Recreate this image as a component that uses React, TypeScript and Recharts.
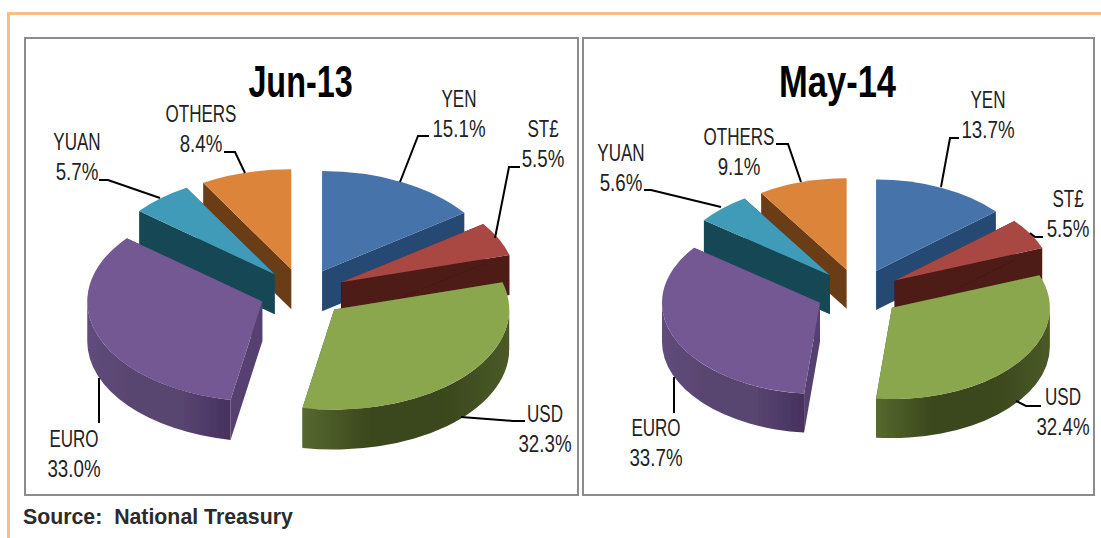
import { PieChart, Pie } from 'recharts'

const categories = ['YEN', 'ST£', 'USD', 'EURO', 'YUAN', 'OTHERS']
const jun13Values = [15.1, 5.5, 32.3, 33.0, 5.7, 8.4]
const may14Values = [13.7, 5.5, 32.4, 33.7, 5.6, 9.1]

// back to front, so the nearer slices cover the walls of the ones behind
const drawOrder = ['OTHERS', 'YUAN', 'EURO', 'YEN', 'ST£', 'USD']

const topColors: Record<string, string> = {
  YEN: '#4673ab', 'ST£': '#a94643', USD: '#8aa74e', EURO: '#735894', YUAN: '#419bb8', OTHERS: '#dd843b',
}
const wallColors: Record<string, string> = {
  YEN: '#264a73', 'ST£': '#4d1a18', USD: '#3d4a1e', EURO: '#54406f', YUAN: '#174754', OTHERS: '#6b3c16',
}
const wallGradients: Record<string, string[]> = {
  USD: ['#56682f', '#3a471c', '#3a471c', '#4a5a28'],
  EURO: ['#5f4c7c', '#59446f', '#58446f', '#46315f'],
}

// label text spots and leader lines, relative to each panel
const jun13Labels: Record<string, { x: number; y: number; line: number[][] }> = {
  YEN: { x: 435, y: 70, line: [[376, 145], [394, 99], [405, 99]] },
  'ST£': { x: 519, y: 100, line: [[471, 201], [485, 130], [496, 130]] },
  USD: { x: 521, y: 385, line: [[437, 380], [489, 384], [501, 384]] },
  EURO: { x: 50, y: 410, line: [[75, 341], [75, 386]] },
  YUAN: { x: 53, y: 113, line: [[136, 161], [84, 143], [75, 143]] },
  OTHERS: { x: 177, y: 85, line: [[221, 136], [211, 115], [200, 115]] },
}
const may14Labels: Record<string, { x: number; y: number; line: number[][] }> = {
  YEN: { x: 406, y: 71, line: [[359, 150], [368, 101], [377, 101]] },
  'ST£': { x: 486, y: 170, line: [[448, 196], [453, 200], [461, 200]] },
  USD: { x: 481, y: 368, line: [[434, 364], [444, 369], [459, 369]] },
  EURO: { x: 74, y: 399, line: [[92, 340], [92, 376]] },
  YUAN: { x: 39, y: 124, line: [[139, 170], [69, 153], [62, 153]] },
  OTHERS: { x: 157, y: 108, line: [[219, 145], [206, 107], [194, 107]] },
}

const LABEL_FONT = '"Liberation Sans", sans-serif'

const Slice3D = ({ props, depth, explode, tilt, id }: any) => {
  const { cx, cy, outerRadius, startAngle, endAngle, name } = props
  const rx = outerRadius
  const ry = outerRadius * tilt
  const a1 = ((90 - startAngle) * Math.PI) / 180
  const a2 = ((90 - endAngle) * Math.PI) / 180
  const mid = (a1 + a2) / 2
  const ox = cx + explode * rx * Math.sin(mid)
  const oy = cy - explode * ry * Math.cos(mid)
  const pt = (a: number, d = 0) => [ox + rx * Math.sin(a), oy - ry * Math.cos(a) + d]
  const arc = (from: number, to: number, d = 0, sweep = 1) => {
    const [x, y] = pt(to, d)
    return `A ${rx} ${ry} 0 ${Math.abs(to - from) > Math.PI ? 1 : 0} ${sweep} ${x} ${y}`
  }
  const wedgeWall = (a: number) => {
    const [x, y] = pt(a)
    return `M ${ox} ${oy} L ${x} ${y} L ${x} ${y + depth} L ${ox} ${oy + depth} Z`
  }
  // only the near half of the rim is visible
  const w1 = Math.max(a1, Math.PI / 2)
  const w2 = Math.min(a2, (Math.PI * 3) / 2)
  const hasRim = w2 > w1
  const [sx, sy] = pt(a1)
  const gradient = wallGradients[name]
  const rimFill = gradient ? `url(#${id}-${name})` : wallColors[name]
  return (
    <g filter={`url(#${id}-soft)`}>
      <defs>
        <filter id={`${id}-soft`} x="-10%" y="-10%" width="120%" height="120%">
          <feGaussianBlur stdDeviation="0.6" />
        </filter>
        {gradient && (
          <linearGradient id={`${id}-${name}`} x1="0" y1="0" x2="1" y2="0">
            {gradient.map((c, i) => (
              <stop key={i} offset={i / (gradient.length - 1)} stopColor={c} />
            ))}
          </linearGradient>
        )}
      </defs>
      <path d={wedgeWall(a2)} fill={wallColors[name]} />
      <path d={wedgeWall(a1)} fill={wallColors[name]} />
      {hasRim && (
        <path
          d={`M ${pt(w1)[0]} ${pt(w1)[1]} ${arc(w1, w2)} L ${pt(w2, depth)[0]} ${pt(w2, depth)[1]} ${arc(w2, w1, depth, 0)} Z`}
          fill={rimFill}
        />
      )}
      <path d={`M ${ox} ${oy} L ${sx} ${sy} ${arc(a1, a2)} Z`} fill={topColors[name]} />
    </g>
  )
}

// no condensed face is installed, so the text is squeezed sideways
const NarrowText = ({ x, y, squeeze, children }: any) => (
  <text
    transform={`translate(${x} ${y}) scale(${squeeze} 1)`}
    textAnchor="middle"
    fontFamily={LABEL_FONT}
    fontSize={24}
    fill="#222"
  >
    {children}
  </text>
)

const renderLabel = (labels: any) => (props: any) => {
  const spot = labels[props.name]
  if (!spot) return <g />
  return (
    <g key={props.name}>
      <polyline
        points={spot.line.map((p: number[]) => p.join(',')).join(' ')}
        fill="none"
        stroke="#000"
        strokeWidth={2}
      />
      <NarrowText x={spot.x} y={spot.y} squeeze={0.71}>
        {props.name}
      </NarrowText>
      <NarrowText x={spot.x} y={spot.y + 30} squeeze={0.78}>
        {props.value.toFixed(1)}%
      </NarrowText>
    </g>
  )
}

function PiePanel({ id, title, titleSqueeze, values, labels, left, width, radius, center, depth, explode, tilt }: any) {
  const table = categories.map((name, i) => ({ name, value: values[i] }))
  return (
    <div
      style={{
        position: 'absolute',
        left,
        top: 37,
        width,
        height: 459,
        border: '2px solid #8c8c8c',
        boxSizing: 'border-box',
      }}
    >
      <div style={{ position: 'absolute', left: -2, top: -2 }}>
        <PieChart width={width} height={459} margin={{ top: 0, right: 0, bottom: 0, left: 0 }}>
          {drawOrder.map((name, i) => (
            <Pie
              key={name}
              data={table}
              dataKey="value"
              nameKey="name"
              cx={center[0]}
              cy={center[1]}
              outerRadius={radius}
              startAngle={90}
              endAngle={-270}
              stroke="none"
              isAnimationActive={false}
              shape={(p: any) =>
                p.name === name ? <Slice3D props={p} depth={depth} explode={explode} tilt={tilt} id={id} /> : <g />
              }
              label={i === drawOrder.length - 1 ? renderLabel(labels) : false}
              labelLine={false}
            />
          ))}
          <text
            transform={`translate(${width / 2 - 1} 60) scale(${titleSqueeze} 1)`}
            textAnchor="middle"
            fontFamily={LABEL_FONT}
            fontWeight="bold"
            fontSize={44}
            fill="#000"
          >
            {title}
          </text>
        </PieChart>
      </div>
    </div>
  )
}

export default function App() {
  return (
    <div style={{ position: 'absolute', left: 0, top: 0, width: 1101, height: 538, background: '#fff', overflow: 'hidden' }}>
      <div style={{ position: 'absolute', left: 7, top: 12, width: 1094, height: 3, background: '#fbbd85' }} />
      <div style={{ position: 'absolute', left: 7, top: 12, width: 3, height: 526, background: '#fbbd85' }} />
      <PiePanel
        id="jun"
        title="Jun-13"
        titleSqueeze={0.735}
        values={jun13Values}
        labels={jun13Labels}
        left={24}
        width={555}
        radius={175}
        center={[278.5, 256]}
        depth={40}
        explode={0.245}
        tilt={0.572}
      />
      <PiePanel
        id="may"
        title="May-14"
        titleSqueeze={0.785}
        values={may14Values}
        labels={may14Labels}
        left={582}
        width={513}
        radius={158}
        center={[276.5, 256]}
        depth={39}
        explode={0.266}
        tilt={0.578}
      />
      <div
        style={{
          position: 'absolute',
          left: 23,
          top: 505,
          fontFamily: '"Liberation Sans", Arial, sans-serif',
          fontWeight: 'bold',
          fontSize: 21.3,
          color: '#2b2b2b',
          whiteSpace: 'pre',
        }}
      >
        Source:  National Treasury
      </div>
    </div>
  )
}
